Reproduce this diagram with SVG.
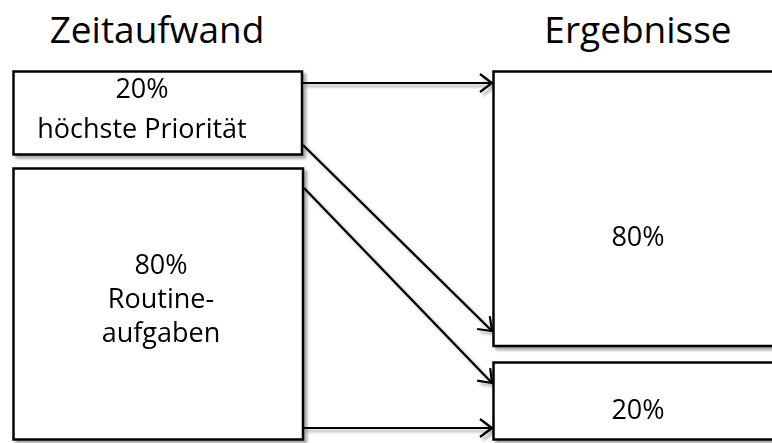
<svg xmlns="http://www.w3.org/2000/svg" width="772" height="443" viewBox="0 0 772 443">
  <style>
    .box { fill: #ffffff; stroke: #000000; stroke-width: 2.5; }
    .conn { fill: none; stroke: #000000; stroke-width: 2.2; }
    .lbl { font-family: "Open Sans", "Noto Sans", sans-serif; font-size: 27px; fill: #000000; text-anchor: middle; }
    .title { font-family: "Open Sans", "Noto Sans", sans-serif; font-size: 37px; fill: #000000; text-anchor: middle; }
  </style>
  <defs>
    <filter id="shadow" x="-5%" y="-5%" width="115%" height="115%">
      <feGaussianBlur in="SourceAlpha" stdDeviation="1.5"/>
      <feOffset dx="3" dy="3" result="b"/>
      <feComponentTransfer><feFuncA type="linear" slope="0.35"/></feComponentTransfer>
      <feMerge><feMergeNode/><feMergeNode in="SourceGraphic"/></feMerge>
    </filter>
    <marker id="arrow" viewBox="0 0 14 20" refX="13" refY="10" markerWidth="14" markerHeight="20" markerUnits="userSpaceOnUse" orient="auto">
      <path d="M1,1 L13,10 L1,19" fill="none" stroke="#000000" stroke-width="2.2"/>
    </marker>
  </defs>

  <rect width="772" height="443" fill="#ffffff"/>

  <text class="title" x="157" y="43">Zeitaufwand</text>
  <text class="title" x="638" y="43">Ergebnisse</text>

  <g id="connectors" filter="url(#shadow)">
    <line class="conn" x1="302" y1="83" x2="492" y2="83" marker-end="url(#arrow)"/>
    <line class="conn" x1="303" y1="145" x2="492" y2="331" marker-end="url(#arrow)"/>
    <line class="conn" x1="304" y1="188" x2="492" y2="383" marker-end="url(#arrow)"/>
    <line class="conn" x1="303" y1="428" x2="492" y2="428" marker-end="url(#arrow)"/>
  </g>

  <g id="time-top" filter="url(#shadow)">
    <rect class="box" x="13.5" y="71.5" width="288.5" height="83"/>
    <text class="lbl" x="142" y="98">20%</text>
    <text class="lbl" x="142" y="138">höchste Priorität</text>
  </g>

  <g id="time-bottom" filter="url(#shadow)">
    <rect class="box" x="13.5" y="168.5" width="289.5" height="271"/>
    <text class="lbl" x="161" y="274">80%</text>
    <text class="lbl" x="161" y="308">Routine-</text>
    <text class="lbl" x="161" y="342">aufgaben</text>
  </g>

  <g id="result-top" filter="url(#shadow)">
    <rect class="box" x="493.5" y="71.5" width="290" height="274.5"/>
    <text class="lbl" x="638" y="246">80%</text>
  </g>

  <g id="result-bottom" filter="url(#shadow)">
    <rect class="box" x="493.5" y="362.5" width="290" height="77"/>
    <text class="lbl" x="638" y="419">20%</text>
  </g>
</svg>
